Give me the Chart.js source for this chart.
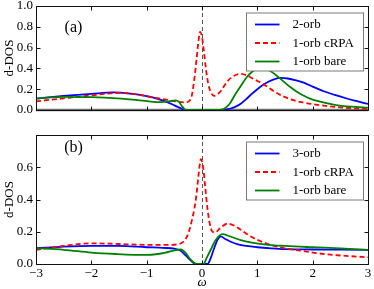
<!DOCTYPE html>
<html>
<head>
<meta charset="utf-8">
<script src="https://cdn.jsdelivr.net/npm/chart.js@4.4.1/dist/chart.umd.min.js"></script>
<style>
  html, body { margin: 0; padding: 0; background: #fff; }
  #wrap { position: relative; width: 374px; height: 289px; }
  canvas { position: absolute; left: 0; }
  #chartA { top: 0; }
  #chartB { top: 135px; }
</style>
</head>
<body>
<div id="wrap">
  <canvas id="chartA" width="374" height="145"></canvas>
  <canvas id="chartB" width="374" height="154"></canvas>
</div>
<script>
// ticks
const xTicks = [-3, -2, -1, 0, 1, 2, 3];
const yTicksA = [0, 0.2, 0.4, 0.6, 0.8, 1.0];
const yTicksB = [0, 0.2, 0.4, 0.6, 0.8];

const labelsA = ['2-orb', '1-orb cRPA', '1-orb bare'];
const labelsB = ['3-orb', '1-orb cRPA', '1-orb bare'];

// panel (a)
const wA_orb = [-3, -2.5, -2, -1.6, -1.3, -1.0, -0.8, -0.65, -0.5, -0.38, -0.3, 0.38, 0.5, 0.6, 0.7, 0.8, 0.9, 1.0, 1.1, 1.2, 1.3, 1.42, 1.55, 1.7, 1.85, 2.0, 2.2, 2.4, 2.6, 2.8, 3.0];
const dA_orb = [0.11, 0.135, 0.155, 0.169, 0.157, 0.133, 0.108, 0.08, 0.045, 0.015, 0, 0, 0.012, 0.03, 0.06, 0.105, 0.155, 0.2, 0.24, 0.272, 0.295, 0.308, 0.303, 0.285, 0.26, 0.225, 0.18, 0.145, 0.113, 0.085, 0.058];

const wA_crpa = [-3, -2.5, -2, -1.7, -1.45, -1.2, -0.96, -0.65, -0.45, -0.3, -0.2, -0.15, -0.1, -0.06, -0.035, 0.0, 0.035, 0.07, 0.11, 0.16, 0.22, 0.28, 0.35, 0.45, 0.58, 0.7, 0.82, 0.94, 1.12, 1.3, 1.48, 1.65, 1.8, 2.08, 2.39, 2.7, 3.0];
const dA_crpa = [0.083, 0.112, 0.14, 0.158, 0.165, 0.152, 0.128, 0.1, 0.08, 0.072, 0.11, 0.25, 0.48, 0.68, 0.75, 0.70, 0.56, 0.40, 0.26, 0.17, 0.137, 0.15, 0.19, 0.27, 0.33, 0.348, 0.33, 0.296, 0.245, 0.18, 0.128, 0.095, 0.075, 0.05, 0.031, 0.018, 0.01];

const wA_bare = [-3, -2.5, -2, -1.6, -1.26, -0.96, -0.75, -0.6, -0.48, -0.42, -0.36, -0.31, -0.28, 0.3, 0.4, 0.5, 0.6, 0.7, 0.8, 0.9, 1.0, 1.07, 1.15, 1.25, 1.35, 1.45, 1.6, 1.78, 1.95, 2.1, 2.4, 2.7, 3.0];
const dA_bare = [0.11, 0.127, 0.123, 0.115, 0.1, 0.083, 0.076, 0.082, 0.093, 0.08, 0.035, 0.005, 0, 0, 0.012, 0.06, 0.15, 0.23, 0.31, 0.365, 0.4, 0.41, 0.4, 0.37, 0.33, 0.285, 0.218, 0.153, 0.11, 0.085, 0.05, 0.032, 0.023];

// panel (b)
const wB_orb = [-3, -2.5, -2, -1.5, -1.0, -0.7, -0.5, -0.4, -0.3, -0.23, -0.16, -0.11, 0.1, 0.15, 0.22, 0.28, 0.34, 0.42, 0.52, 0.65, 0.8, 1.0, 1.25, 1.5, 2.0, 2.5, 3.0];
const dB_orb = [0.098, 0.108, 0.113, 0.112, 0.104, 0.1, 0.095, 0.085, 0.055, 0.03, 0.008, 0, 0, 0.03, 0.098, 0.15, 0.171, 0.155, 0.138, 0.122, 0.112, 0.104, 0.097, 0.092, 0.09, 0.089, 0.088];

const wB_crpa = [-3, -2.5, -2, -1.56, -1.0, -0.6, -0.42, -0.33, -0.27, -0.22, -0.18, -0.14, -0.1, -0.06, -0.02, 0.02, 0.06, 0.1, 0.14, 0.19, 0.24, 0.32, 0.46, 0.6, 0.7, 0.88, 1.0, 1.18, 1.48, 1.78, 2.08, 2.39, 2.7, 3.0];
const dB_crpa = [0.0875, 0.112, 0.128, 0.125, 0.119, 0.119, 0.123, 0.14, 0.171, 0.22, 0.275, 0.34, 0.43, 0.56, 0.65, 0.6, 0.47, 0.34, 0.25, 0.2, 0.196, 0.22, 0.25, 0.235, 0.2125, 0.171, 0.15, 0.125, 0.098, 0.083, 0.067, 0.056, 0.048, 0.042];

const wB_bare = [-3, -2.5, -2, -1.56, -1.0, -0.8, -0.66, -0.5, -0.38, -0.3, -0.2, -0.13, -0.09, 0.03, 0.08, 0.16, 0.25, 0.37, 0.5, 0.7, 0.9, 1.2, 1.5, 2.0, 2.5, 3.0];
const dB_bare = [0.098, 0.088, 0.071, 0.062, 0.056, 0.062, 0.071, 0.085, 0.09, 0.07, 0.025, 0.005, 0, 0, 0.035, 0.09, 0.15, 0.185, 0.172, 0.148, 0.133, 0.119, 0.112, 0.104, 0.097, 0.0875];

const FONT = "'Liberation Serif', 'DejaVu Serif', serif";
const pts = (xs, ys) => xs.map((x, i) => ({ x: x, y: ys[i] }));

function serie(label, data, color, dash, order) {
    return {
        label: label,
        data: data,
        borderColor: color,
        borderWidth: 1.8,
        borderDash: dash,
        pointRadius: 0,
        cubicInterpolationMode: 'monotone',
        fill: false,
        order: order
    };
}

// frame, inward ticks, zero lines, panel label and the boxed legend
const painelPlugin = {
    id: 'painel',
    beforeDatasetsDraw(chart, args, opts) {
        const { ctx, chartArea: a, scales: { x, y } } = chart;
        ctx.save();
        if (opts.baseline) {
            const y0 = y.getPixelForValue(0);
            ctx.strokeStyle = '#6e6e6e';
            ctx.lineWidth = 2.5;
            ctx.beginPath(); ctx.moveTo(a.left, y0); ctx.lineTo(a.right, y0); ctx.stroke();
        }
        const x0 = Math.round(x.getPixelForValue(0)) + 0.5;
        ctx.strokeStyle = '#555';
        ctx.lineWidth = 1;
        ctx.setLineDash([4, 3]);
        ctx.beginPath(); ctx.moveTo(x0, a.top); ctx.lineTo(x0, a.bottom); ctx.stroke();
        ctx.restore();
    },
    afterDatasetsDraw(chart, args, opts) {
        const { ctx, chartArea: a, scales: { x, y } } = chart;
        ctx.save();
        ctx.strokeStyle = '#111';
        ctx.lineWidth = 1;
        const L = Math.round(a.left) + 0.5, R = Math.round(a.right) + 0.5;
        const T = Math.round(a.top) + 0.5, B = Math.round(a.bottom) + 0.5;
        ctx.strokeRect(L, T, R - L, B - T);
        ctx.beginPath();
        xTicks.forEach(v => {
            const px = Math.round(x.getPixelForValue(v)) + 0.5;
            ctx.moveTo(px, T); ctx.lineTo(px, T + 4);
            ctx.moveTo(px, B); ctx.lineTo(px, B - 4);
        });
        opts.yTicks.forEach(v => {
            const py = Math.round(y.getPixelForValue(v)) + 0.5;
            ctx.moveTo(L, py); ctx.lineTo(L + 4, py);
            ctx.moveTo(R, py); ctx.lineTo(R - 4, py);
        });
        ctx.stroke();

        // panel label
        ctx.fillStyle = '#000';
        ctx.font = '16px ' + FONT;
        ctx.textAlign = 'center';
        ctx.textBaseline = 'middle';
        ctx.fillText(opts.label, opts.labelX, opts.labelY);

        // legend
        const bw = 117, bh = 58;
        const bx = R - 5 - bw, by = T + 6.5;
        ctx.fillStyle = '#fff';
        ctx.fillRect(bx, by, bw, bh);
        ctx.strokeStyle = '#7a7a7a';
        ctx.strokeRect(bx, by, bw, bh);
        ctx.font = '13px ' + FONT;
        ctx.textAlign = 'left';
        chart.data.datasets.forEach((ds, i) => {
            const ry = by + 11.5 + i * 18.5;
            ctx.strokeStyle = ds.borderColor;
            ctx.lineWidth = ds.borderWidth;
            ctx.setLineDash(ds.borderDash || []);
            ctx.beginPath(); ctx.moveTo(bx + 8.5, ry); ctx.lineTo(bx + 33, ry); ctx.stroke();
            ctx.setLineDash([]);
            ctx.fillStyle = '#000';
            ctx.fillText(ds.label, bx + 46, ry + 0.5);
        });
        ctx.restore();
    }
};

function fixarY(s) { s.width = 36; s.paddingTop = 0; s.paddingBottom = 0; }

function opcoes(yMax, yTicks, comEixoX, label, labelY, baseline) {
    return {
        responsive: false,
        devicePixelRatio: 1,
        animation: false,
        layout: { padding: comEixoX ? { left: 0, top: 0, right: 6, bottom: 0 } : { left: 0, top: 6, right: 6, bottom: 10 } },
        scales: {
            x: {
                type: 'linear',
                min: -3, max: 3,
                display: comEixoX,
                afterBuildTicks: s => { s.ticks = xTicks.map(v => ({ value: v })); },
                afterFit: s => { s.height = 25; s.paddingLeft = 0; s.paddingRight = 0; },
                grid: { display: false, drawTicks: false, tickLength: 0 },
                border: { display: false },
                ticks: {
                    padding: 2,
                    maxRotation: 0,
                    autoSkip: false,
                    color: '#000',
                    font: { family: FONT, size: 13 },
                    callback: v => (v < 0 ? '\u2212' + Math.abs(v) : String(v))
                },
                title: {
                    display: true,
                    text: 'ω',
                    color: '#000',
                    padding: { top: 0, bottom: 0 },
                    font: { family: FONT, size: 13, style: 'italic', lineHeight: 1 }
                }
            },
            y: {
                min: 0, max: yMax,
                afterBuildTicks: s => { s.ticks = yTicks.map(v => ({ value: v })); },
                afterFit: fixarY,
                grid: { display: false, drawTicks: false, tickLength: 0 },
                border: { display: false },
                ticks: {
                    padding: 3,
                    color: '#000',
                    font: { family: FONT, size: 13 },
                    callback: v => (!comEixoX || v < 0.79) ? v.toFixed(1) : ''
                },
                title: {
                    display: true,
                    text: 'd-DOS',
                    color: '#000',
                    padding: { top: 2, bottom: 0 },
                    font: { family: FONT, size: 13 }
                }
            }
        },
        plugins: {
            legend: { display: false },
            tooltip: { enabled: false },
            painel: { label: label, labelX: 73.5, labelY: labelY, baseline: baseline, yTicks: yTicks }
        }
    };
}

new Chart(document.getElementById('chartA'), {
    type: 'line',
    data: {
        datasets: [
            serie(labelsA[0], pts(wA_orb, dA_orb), '#0000ff', [], 2),
            serie(labelsA[1], pts(wA_crpa, dA_crpa), '#ff0000', [5, 3], 1),
            serie(labelsA[2], pts(wA_bare, dA_bare), '#008000', [], 0)
        ]
    },
    options: opcoes(1.0, yTicksA, false, '(a)', 28, true),
    plugins: [painelPlugin]
});

new Chart(document.getElementById('chartB'), {
    type: 'line',
    data: {
        datasets: [
            serie(labelsB[0], pts(wB_orb, dB_orb), '#0000ff', [], 2),
            serie(labelsB[1], pts(wB_crpa, dB_crpa), '#ff0000', [5, 3], 1),
            serie(labelsB[2], pts(wB_bare, dB_bare), '#008000', [], 0)
        ]
    },
    options: opcoes(0.8, yTicksB, true, '(b)', 13, false),
    plugins: [painelPlugin]
});
</script>
</body>
</html>
